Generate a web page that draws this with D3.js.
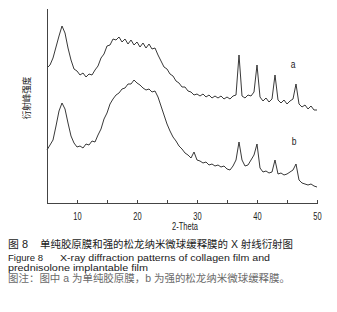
<!DOCTYPE html>
<html lang="zh">
<head>
    <meta charset="UTF-8">
    <title>XRD</title>
    <script src="https://cdn.jsdelivr.net/npm/d3@7"></script>
    <style>
        body{
            margin:0;
            background-color:#ffffff;
        }
        .curva{
            fill:none;
            stroke:#222;
            stroke-width:0.9;
            stroke-linejoin:round;
        }
        .axis path, .axis line{
            stroke:#444;
            stroke-width:1;
            shape-rendering:crispEdges;
        }
        .axis text{
            font-family:"Liberation Sans", Arial, sans-serif;
            font-size:10px;
            fill:#222;
        }
        .etiqueta{
            font-family:"Liberation Sans", Arial, sans-serif;
            font-size:10px;
            fill:#222;
        }
        .titulo{
            font-family:"Liberation Sans", "Noto Sans CJK SC", sans-serif;
            font-size:10.5px;
            fill:#1a1a1a;
        }
        .ingles{
            font-size:9.5px;
        }
        .nota{
            fill:#6a6a6a;
        }
    </style>
</head>
<body>
<div id="grafico"></div>
<script>
var w = 337;
var h = 312;

// 2-Theta (grados)
var twoTheta = [5,5.5,6,6.5,7,7.5,8,8.5,9,9.5,10,10.5,11,11.5,12,12.5,13,13.5,14,14.5,
    15,15.5,16,16.5,17,17.5,18,18.5,19,19.5,20,20.5,21,21.5,22,22.5,23,23.5,24,24.5,
    25,25.5,26,26.5,27,27.5,28,28.5,29,29.5,30,30.5,31,31.5,32,32.5,33,33.5,34,34.5,
    35,35.5,36,36.5,37,37.5,38,38.5,39,39.5,40,40.5,41,41.5,42,42.5,43,43.5,44,44.5,
    45,45.5,46,46.5,47,47.5,48,48.5,49,49.5,50];

// curva a: 单纯胶原膜 (intensidad, u.a.)
var serieA = [135,138,145,156,167,177,170,155,143,134,132,128,130,126,129,128,133,137,145,149,
    157,158,164,163,166,161,164,159,163,158,161,156,160,155,159,154,155,148,142,136,
    134,129,127,122,120,116,116,112,111,108,109,107,109,106,108,105,107,105,107,104,
    106,104,107,108,148,107,105,108,107,111,138,106,102,105,101,104,128,103,100,103,
    99,102,104,119,99,96,98,94,97,93,93];

// curva b: 强的松龙纳米微球缓释膜
var serieB = [53,58,63,77,92,100,94,80,67,60,56,57,55,59,58,62,61,68,74,84,
    90,99,104,108,110,114,115,119,119,123,120,118,115,113,114,111,112,106,97,88,
    79,72,66,62,57,54,50,48,45,51,43,42,40,41,38,39,37,38,36,37,
    34,33,37,43,61,43,37,38,43,48,59,35,31,32,30,31,43,29,30,28,
    29,31,33,39,23,20,19,18,19,17,16];

var xTicks = [5,10,15,20,25,30,35,40,45,50];
var xLabels = ["", "10", "", "20", "", "30", "", "40", "", "50"];

var nombresSeries = ["a", "b"];
var posEtiquetas = [[46, 139], [46.2, 61.5]]; // [2-Theta, intensidad] de las letras

var tituloCn = ["图 8", "单纯胶原膜和强的松龙纳米微球缓释膜的 X 射线衍射图"];
var tituloEn = ["Figure 8", "X-ray diffraction patterns of collagen film and", "prednisolone implantable film"];
var notaCn = "图注：图中 a 为单纯胶原膜，b 为强的松龙纳米微球缓释膜。";

//Escalas
var xScale = d3.scaleLinear()
    .domain([5, 50])
    .range([47, 317]);
var yScale = d3.scaleLinear()
    .domain([0, 195])
    .range([203, 8]);

var grafico = d3.select("#grafico")
    .append("svg")
    .attr("width", w)
    .attr("height", h);

var linea = d3.line()
    .x(function(d, i){ return xScale(twoTheta[i]); })
    .y(function(d){ return yScale(d); });

grafico.selectAll(".curva")
    .data([serieA, serieB])
    .enter()
    .append("path")
    .attr("class", "curva")
    .attr("d", linea);

//Ejes
var xAxis = d3.axisBottom(xScale)
    .tickValues(xTicks)
    .tickSize(-3)
    .tickSizeOuter(0)
    .tickPadding(10)
    .tickFormat(function(d, i){ return xLabels[i]; });

var yAxis = d3.axisLeft(yScale)
    .tickValues([])
    .tickSizeOuter(0);

var ejeX = grafico.append("g")
    .attr("class", "axis")
    .attr("transform", "translate(0," + yScale(0) + ")")
    .call(xAxis);
ejeX.selectAll("text").attr("transform", "scale(0.75,1)");

grafico.append("g")
    .attr("class", "axis")
    .attr("transform", "translate(" + xScale(5) + ",0)")
    .call(yAxis);

grafico.append("text")
    .attr("class", "etiqueta")
    .attr("text-anchor", "middle")
    .attr("transform", "translate(185,230) scale(0.75,1)")
    .text("2-Theta");

grafico.append("text")
    .attr("class", "etiqueta")
    .attr("text-anchor", "middle")
    .attr("fill", "#555")
    .style("font-family", "'Noto Sans CJK SC', sans-serif")
    .style("font-size", "9.5px")
    .attr("transform", "translate(30,98) rotate(-90) scale(0.9,1)")
    .text("衍射峰强度");

grafico.selectAll(".letra")
    .data(nombresSeries)
    .enter()
    .append("text")
    .attr("class", "etiqueta letra")
    .attr("text-anchor", "middle")
    .attr("transform", function(d, i){
        return "translate(" + xScale(posEtiquetas[i][0]) + "," + (yScale(posEtiquetas[i][1]) + 3.5) + ") scale(0.85,1)";
    })
    .text(function(d){ return d; });

//Pie de figura
function pie(clase, x, y, largo, texto){
    grafico.append("text")
        .attr("class", clase)
        .attr("x", x)
        .attr("y", y)
        .attr("textLength", largo)
        .attr("lengthAdjust", "spacingAndGlyphs")
        .text(texto);
}
pie("titulo", 8, 248, 20, tituloCn[0]);
pie("titulo", 40, 248, 253, tituloCn[1]);
pie("titulo ingles", 8, 260.5, 35, tituloEn[0]);
pie("titulo ingles", 60, 260.5, 210, tituloEn[1]);
pie("titulo ingles", 8, 271, 140, tituloEn[2]);
pie("titulo nota", 8, 282, 282, notaCn);
</script>
</body>
</html>
